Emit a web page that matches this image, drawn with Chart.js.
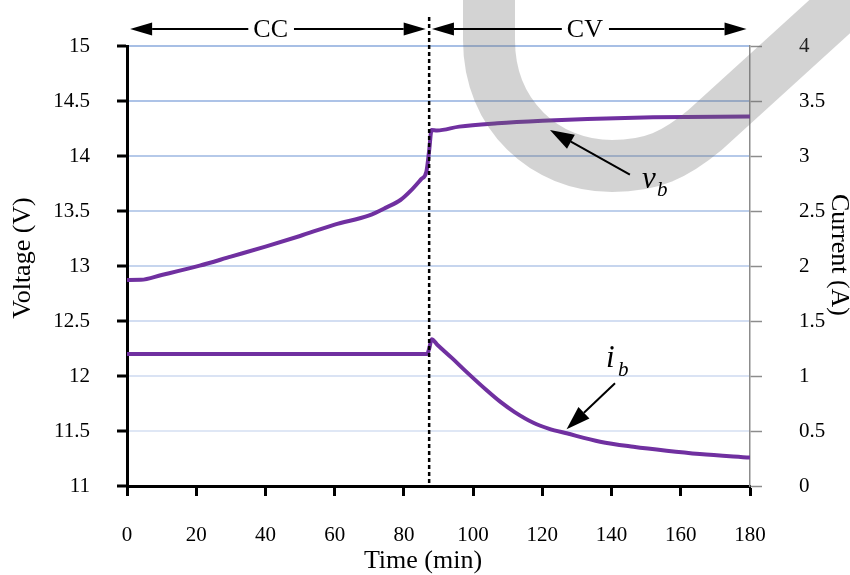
<!DOCTYPE html>
<html>
<head>
<meta charset="utf-8">
<script src="https://cdn.jsdelivr.net/npm/chart.js@4"></script>
<style>
    html, body { margin: 0; padding: 0; background: #fff; }
    canvas { display: block; }
</style>
</head>
<body>
<canvas id="chart" width="850" height="575"></canvas>
<script>
// battery charge: voltage (left) and current (right) vs time
const timeV = [0, 4, 10, 21, 30, 40, 50, 60, 70, 75, 79, 82, 85, 86.5, 87.3, 88.0, 89.6, 96, 107, 120, 133, 152, 180];
const voltage = [12.873, 12.874, 12.918, 13.003, 13.085, 13.176, 13.273, 13.376, 13.46, 13.533, 13.6, 13.685, 13.79, 13.857,
    14.05, 14.236, 14.232, 14.267, 14.297, 14.32, 14.336, 14.352, 14.36];

const timeI = [0, 86.7, 87.4, 88.0, 89.8, 94, 98, 104, 108, 112, 117.4, 122, 127, 136.7, 146.3, 155.9, 165.5, 180];
const current = [1.2, 1.2, 1.26, 1.335, 1.28, 1.16, 1.04, 0.868, 0.762, 0.672, 0.575, 0.52, 0.479, 0.403, 0.357, 0.321, 0.291, 0.258];

const timeTicks = [0, 20, 40, 60, 80, 100, 120, 140, 160, 180];
const switchTime = 87.3; // CC -> CV

const PURPLE = '#7030a0';
const SERIF = "'Liberation Serif', 'Times New Roman', serif";

// light blue grid, fading towards the bottom
const GRID_COLORS = ['#ffffff', '#dfe7f5', '#dae3f4', '#d3def2', '#c6d5ee', '#bdcfeb', '#b5c9e9', '#adc3e7', '#a7bfe5'];

function arrow(ctx, x1, y1, x2, y2, len, half) {
    const a = Math.atan2(y2 - y1, x2 - x1);
    const bx = x2 - len * Math.cos(a), by = y2 - len * Math.sin(a);
    ctx.beginPath();
    ctx.moveTo(x1, y1);
    ctx.lineTo(bx, by);
    ctx.stroke();
    ctx.beginPath();
    ctx.moveTo(x2, y2);
    ctx.lineTo(bx + half * Math.sin(a), by - half * Math.cos(a));
    ctx.lineTo(bx - half * Math.sin(a), by + half * Math.cos(a));
    ctx.closePath();
    ctx.fill();
}

// double-headed arrow with the label sitting in a gap
function spanArrow(ctx, x1, x2, cx, y, label) {
    ctx.font = '26px ' + SERIF;
    const w = ctx.measureText(label).width;
    arrow(ctx, cx - w / 2 - 5, y, x1, y, 22, 6.5);
    arrow(ctx, cx + w / 2 + 6, y, x2, y, 22, 6.5);
    ctx.textAlign = 'center';
    ctx.textBaseline = 'middle';
    ctx.fillText(label, cx, y + 1);
}

const fmt = (v) => String(Number(v.toFixed(1)));

const annotate = {
    id: 'annotate',
    afterDatasetsDraw(chart) {
        // grey swoosh watermark
        const ctx = chart.ctx;
        ctx.save();
        ctx.strokeStyle = 'rgba(110,110,110,0.3)';
        ctx.lineWidth = 52;
        ctx.lineJoin = 'round';
        ctx.beginPath();
        ctx.moveTo(489, -30);
        ctx.lineTo(489, 40);
        ctx.bezierCurveTo(489, 115, 545, 166, 612, 166);
        ctx.bezierCurveTo(652, 166, 675, 155, 705, 130);
        ctx.lineTo(870, -20);
        ctx.stroke();
        ctx.restore();
    },
    afterDraw(chart) {
        const ctx = chart.ctx;
        const x = chart.scales.x, yV = chart.scales.y, yI = chart.scales.y1;
        ctx.save();
        ctx.fillStyle = '#000';
        ctx.strokeStyle = '#000';

        // CC / CV boundary
        const sx = x.getPixelForValue(switchTime);
        ctx.lineWidth = 2.5;
        ctx.setLineDash([4, 3]);
        ctx.beginPath();
        ctx.moveTo(sx, 17);
        ctx.lineTo(sx, chart.chartArea.bottom);
        ctx.stroke();
        ctx.setLineDash([]);

        ctx.lineWidth = 2;
        spanArrow(ctx, x.getPixelForValue(0.9), x.getPixelForValue(86.3), x.getPixelForValue(41.5), 29, 'CC');
        spanArrow(ctx, x.getPixelForValue(88.1), x.getPixelForValue(179), x.getPixelForValue(132.3), 29, 'CV');

        // v_b pointer
        arrow(ctx, x.getPixelForValue(145.3), yV.getPixelForValue(13.83),
            x.getPixelForValue(122.2), yV.getPixelForValue(14.236), 24, 8);
        // i_b pointer
        arrow(ctx, x.getPixelForValue(141), yI.getPixelForValue(0.934),
            x.getPixelForValue(127), yI.getPixelForValue(0.515), 24, 8);

        ctx.textAlign = 'left';
        ctx.textBaseline = 'alphabetic';
        ctx.font = 'italic 31px ' + SERIF;
        ctx.fillText('v', 642, 188);
        ctx.fillText('i', 606, 367);
        ctx.font = 'italic 21px ' + SERIF;
        ctx.fillText('b', 657, 196);
        ctx.fillText('b', 618, 376);

        // axis titles
        ctx.font = '26px ' + SERIF;
        ctx.textAlign = 'center';
        ctx.textBaseline = 'middle';
        ctx.fillText('Time (min)', 423, 561);
        ctx.save();
        ctx.translate(23, 258);
        ctx.rotate(-Math.PI / 2);
        ctx.fillText('Voltage (V)', 0, 0);
        ctx.restore();
        ctx.save();
        ctx.translate(839, 255);
        ctx.rotate(Math.PI / 2);
        ctx.fillText('Current (A)', 0, 0);
        ctx.restore();
        ctx.restore();
    }
};

const tickFont = { family: SERIF, size: 21 };

new Chart(document.getElementById('chart'), {
    type: 'line',
    data: {
        datasets: [
            {
                label: 'vb',
                data: timeV.map((t, i) => ({ x: t, y: voltage[i] })),
                yAxisID: 'y',
                borderColor: PURPLE,
                borderWidth: 4,
                pointRadius: 0,
                cubicInterpolationMode: 'monotone',
            },
            {
                label: 'ib',
                data: timeI.map((t, i) => ({ x: t, y: current[i] })),
                yAxisID: 'y1',
                borderColor: PURPLE,
                borderWidth: 4,
                pointRadius: 0,
                cubicInterpolationMode: 'monotone',
            },
        ],
    },
    options: {
        responsive: false,
        devicePixelRatio: 1,
        animation: false,
        layout: { padding: { top: 46, left: 0, right: 0, bottom: 0 } },
        plugins: { legend: { display: false }, tooltip: { enabled: false } },
        scales: {
            x: {
                type: 'linear',
                min: 0,
                max: 180,
                afterBuildTicks: (s) => { s.ticks = timeTicks.map(v => ({ value: v })); },
                afterFit: (s) => { s.height = 89; },
                ticks: { font: tickFont, color: '#000', padding: 27, maxRotation: 0 },
                grid: { drawOnChartArea: false, tickLength: 10, tickColor: '#000', tickWidth: 3 },
                border: { color: '#000', width: 3 },
            },
            y: {
                position: 'left',
                min: 11,
                max: 15,
                afterFit: (s) => { s.width = 127; },
                ticks: { stepSize: 0.5, font: tickFont, color: '#000', padding: 27, callback: fmt },
                grid: {
                    color: (c) => GRID_COLORS[c.index] || '#c6d5ee',
                    lineWidth: 2,
                    tickLength: 10,
                    tickColor: '#000',
                    tickWidth: 3,
                },
                border: { color: '#000', width: 3 },
            },
            y1: {
                position: 'right',
                min: 0,
                max: 4,
                afterFit: (s) => { s.width = 100; s.paddingTop = 12; s.paddingBottom = 12; },
                ticks: { stepSize: 0.5, font: tickFont, color: '#000', padding: 37, callback: fmt },
                grid: { drawOnChartArea: false, tickLength: 12, tickColor: '#8c8c8c', tickWidth: 1.5 },
                border: { color: '#8c8c8c', width: 1.5 },
            },
        },
    },
    plugins: [annotate],
});
</script>
</body>
</html>
